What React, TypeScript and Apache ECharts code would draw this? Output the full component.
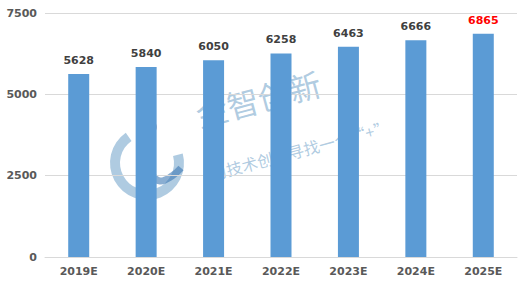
import React, { useEffect, useRef } from "react";
import * as echarts from "echarts";

const years = ["2019E", "2020E", "2021E", "2022E", "2023E", "2024E", "2025E"];
const values = [5628, 5840, 6050, 6258, 6463, 6666, 6865];
const highlightIndex = 6;

const FONT = "'DejaVu Sans', sans-serif";
const MARK = "rgba(110, 160, 200, 0.55)";

export default function App() {
  const ref = useRef<HTMLDivElement>(null);

  useEffect(() => {
    document.body.style.margin = "0";
    if (!ref.current) return;
    const chart = echarts.init(ref.current, null, { renderer: "svg" });
    chart.setOption({
      animation: false,
      backgroundColor: "#ffffff",
      grid: { left: 45, right: 9, top: 13, bottom: 30 },
      xAxis: {
        type: "category",
        data: years,
        axisTick: { show: false },
        axisLine: { lineStyle: { color: "#d9d9d9", width: 1 } },
        axisLabel: {
          color: "#595959",
          fontFamily: FONT,
          fontWeight: "bold",
          fontSize: 11,
          margin: 9,
        },
      },
      yAxis: {
        type: "value",
        min: 0,
        max: 7500,
        interval: 2500,
        axisLine: { show: false },
        axisTick: { show: false },
        splitLine: { lineStyle: { color: "#d9d9d9", width: 1 } },
        axisLabel: {
          color: "#595959",
          fontFamily: FONT,
          fontWeight: "bold",
          fontSize: 11,
          margin: 8,
          formatter: (v: number) => String(v),
        },
      },
      series: [
        {
          type: "bar",
          data: values.map((v, i) => ({
            value: v,
            label: i === highlightIndex ? { color: "#ff0000" } : undefined,
          })),
          barWidth: 21,
          itemStyle: { color: "#5b9bd5" },
          label: {
            show: true,
            position: "top",
            distance: 8,
            color: "#404040",
            fontFamily: FONT,
            fontWeight: "bold",
            fontSize: 11,
          },
        },
      ],
      graphic: [
        {
          type: "group",
          z: 100,
          silent: true,
          children: [
            {
              type: "sector",
              shape: {
                cx: 147,
                cy: 163,
                r0: 27,
                r: 37,
                startAngle: (-15 * Math.PI) / 180,
                endAngle: (235 * Math.PI) / 180,
                clockwise: true,
              },
              style: { fill: MARK },
            },
            {
              type: "polyline",
              shape: {
                points: [
                  [147, 138],
                  [149, 158],
                  [152, 174],
                  [160, 181],
                  [172, 176],
                  [181, 168],
                ],
                smooth: 0.4,
              },
              style: { stroke: "rgba(60, 120, 180, 0.6)", lineWidth: 7, fill: "none" },
            },
            {
              type: "circle",
              shape: { cx: 151, cy: 127, r: 6 },
              style: { fill: "rgba(140, 140, 170, 0.7)" },
            },
            {
              type: "text",
              x: 258,
              y: 98,
              rotation: (15 * Math.PI) / 180,
              style: {
                text: "金智创新",
                font: "32px 'Noto Sans CJK SC'",
                fill: MARK,
                align: "center",
                verticalAlign: "middle",
              },
            },
            {
              type: "text",
              x: 300,
              y: 150,
              rotation: (15 * Math.PI) / 180,
              style: {
                text: "为技术创新寻找一个\u201c+\u201d",
                font: "16px 'Noto Sans CJK SC'",
                fill: MARK,
                align: "center",
                verticalAlign: "middle",
              },
            },
          ],
        },
      ],
    });
    return () => chart.dispose();
  }, []);

  return <div ref={ref} style={{ width: 526, height: 287 }} />;
}
